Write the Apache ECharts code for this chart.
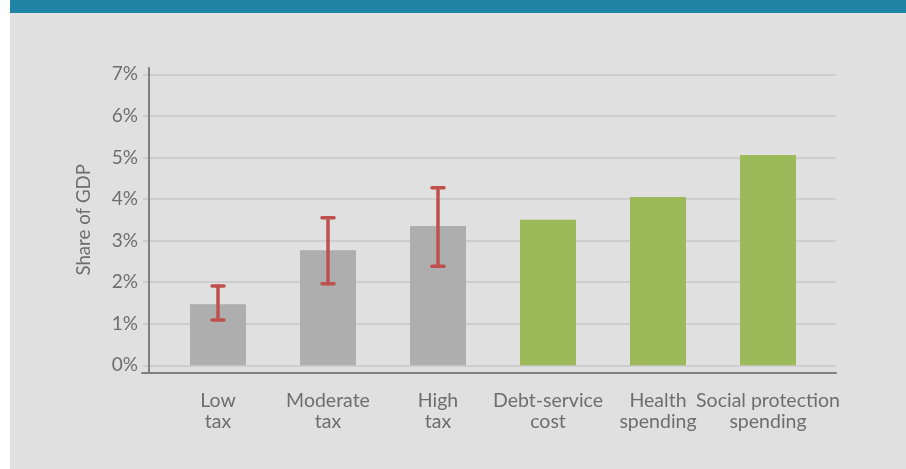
<!DOCTYPE html>
<html>
<head>
<meta charset="utf-8">
<script src="https://cdn.jsdelivr.net/npm/echarts@6/dist/echarts.min.js"></script>
<style>
  html, body { margin: 0; padding: 0; background: #dfe0df; }
  #strip { position: absolute; left: 0; top: 0; width: 10px; height: 469px; background: #ffffff; }
  #band { position: absolute; left: 10px; top: 0; right: 0; height: 13px; background: #2184a4; }
  #chart { position: absolute; left: 0; top: 0; width: 906px; height: 469px; }
</style>
</head>
<body>
<div id="strip"></div>
<div id="band"></div>
<div id="chart"></div>
<script>
// categories and values (share of GDP, %)
var categories = ['Low\ntax', 'Moderate\ntax', 'High\ntax', 'Debt-service\ncost', 'Health\nspending', 'Social protection\nspending'];
var taxValues = [1.47, 2.77, 3.35, '-', '-', '-'];
var spendValues = ['-', '-', '-', 3.50, 4.05, 5.06];
var errLow = [1.09, 1.96, 2.38];
var errHigh = [1.91, 3.55, 4.27];
var yTicks = [0, 7, 1]; // min, max, step

var errData = [];
for (var i = 0; i < errLow.length; i++) {
  errData.push([i, errLow[i], errHigh[i]]);
}

var textColor = '#6e6e6e';
var font = 'Lato, "Open Sans", sans-serif';

var chart = echarts.init(document.getElementById('chart'));
var option = {
  animation: false,
  grid: [
    // frame: gridlines and y labels
    { left: 143, right: 70, top: 74.3, bottom: 103.7 },
    // data
    { left: 163, right: 83, top: 74.3, bottom: 103.7 },
    // axis lines
    { left: 142, right: 70, top: 68, bottom: 96 }
  ],
  xAxis: [
    { gridIndex: 0, type: 'category', data: categories, show: false },
    {
      gridIndex: 1, type: 'category', data: categories,
      axisLine: { show: false }, axisTick: { show: false },
      axisLabel: {
        color: textColor, fontFamily: font, fontSize: 19.5, lineHeight: 21,
        margin: 25, interval: 0
      }
    },
    {
      gridIndex: 2, type: 'category', data: categories,
      axisLine: { show: true, lineStyle: { color: '#7f7f7f', width: 2 } },
      axisTick: { show: false }, axisLabel: { show: false }
    }
  ],
  yAxis: [
    {
      gridIndex: 0, type: 'value', min: yTicks[0], max: yTicks[1], interval: yTicks[2],
      name: 'Share of GDP', nameLocation: 'middle', nameGap: 50,
      nameTextStyle: { color: textColor, fontFamily: font, fontSize: 18.7 },
      axisLine: { show: false }, axisTick: { show: false },
      axisLabel: { color: textColor, fontFamily: font, fontSize: 19, margin: 5, formatter: '{value}%' },
      splitLine: { lineStyle: { color: '#c8c9c9', width: 1.5 } }
    },
    { gridIndex: 1, type: 'value', min: yTicks[0], max: yTicks[1], show: false },
    {
      gridIndex: 2, type: 'value', offset: -7,
      axisLine: { show: true, onZero: false, lineStyle: { color: '#7f7f7f', width: 2 } },
      axisTick: { show: false }, axisLabel: { show: false }, splitLine: { show: false }
    }
  ],
  series: [
    {
      name: 'Tax', type: 'bar', xAxisIndex: 1, yAxisIndex: 1, stack: 'all',
      barWidth: 56, data: taxValues, itemStyle: { color: '#aeaeaf' }
    },
    {
      name: 'Spending', type: 'bar', xAxisIndex: 1, yAxisIndex: 1, stack: 'all',
      barWidth: 56, data: spendValues, itemStyle: { color: '#9cba5a' }
    },
    {
      name: 'Range', type: 'custom', xAxisIndex: 1, yAxisIndex: 1, data: errData, z: 10,
      renderItem: function (params, api) {
        var lo = api.coord([api.value(0), api.value(1)]);
        var hi = api.coord([api.value(0), api.value(2)]);
        var half = 6;
        var style = { stroke: '#c0504d', lineWidth: 3.5, lineCap: 'round' };
        return {
          type: 'group',
          children: [
            { type: 'line', shape: { x1: lo[0], y1: lo[1], x2: hi[0], y2: hi[1] }, style: style },
            { type: 'line', shape: { x1: lo[0] - half, y1: lo[1], x2: lo[0] + half, y2: lo[1] }, style: style },
            { type: 'line', shape: { x1: hi[0] - half, y1: hi[1], x2: hi[0] + half, y2: hi[1] }, style: style }
          ]
        };
      }
    }
  ]
};
chart.setOption(option);
</script>
</body>
</html>
